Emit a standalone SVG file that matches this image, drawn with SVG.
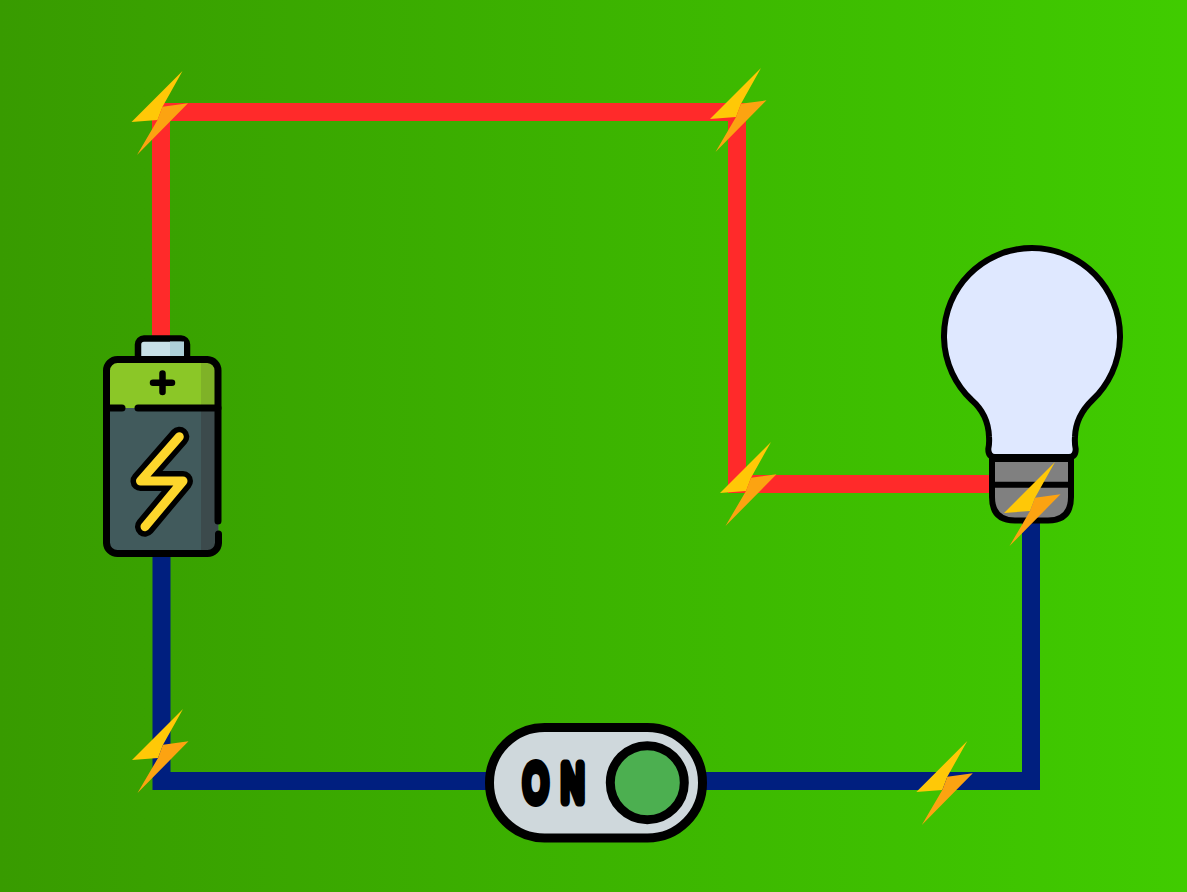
<svg xmlns="http://www.w3.org/2000/svg" width="1187" height="892" viewBox="0 0 1187 892">
<style>
.w{fill:none;stroke-width:18;stroke-linejoin:miter}
.r{stroke:#ff2a2a}.b{stroke:#001f7f}
.k{stroke:#000;stroke-linecap:round;stroke-linejoin:round;fill:none}
.on{font-family:"Liberation Sans",Arial,sans-serif;font-weight:400;font-size:51px;fill:#000;stroke:#000;stroke-width:9;stroke-linejoin:round;vector-effect:non-scaling-stroke}
</style>
<defs>
<linearGradient id="bg" x1="0" y1="0" x2="1" y2="0"><stop offset="0" stop-color="#389b00"/><stop offset="1" stop-color="#40cc00"/></linearGradient>
<g id="bolt">
<polygon points="0,0 -51,51 -25,49 -20,35.700" fill="#ffc807"/>
<polygon points="5.500,32.300 -45.500,84 -25,49 -20,35.700" fill="#fca311"/>
</g>
</defs>
<rect width="1187" height="892" fill="url(#bg)"/>
<g id="connectors">
<path class="w r" d="M161 340V112H737V484H992"/>
<path class="w b" d="M161.500 555V781H1031V520"/>
</g>
<g id="battery">
<rect x="138" y="338.500" width="49" height="24" rx="6" fill="#c9e0e7" stroke="#000" stroke-width="6.500"/>
<path d="M170 341.500H184V356H170Z" fill="#aed0d8"/>
<rect x="106.500" y="359.500" width="112" height="194" rx="11" fill="#415a5c"/>
<path d="M117.500 359.500H207.500A11 11 0 0 1 218.500 370.500V408H106.500V370.500A11 11 0 0 1 117.500 359.500Z" fill="#8bc727"/>
<path d="M201 360H208A10.500 10.500 0 0 1 218 371V408H201Z" fill="#7fb227"/>
<path d="M201 408H218V543A10 10 0 0 1 208 553H201Z" fill="#3c4a4c"/>
<path class="k" stroke-width="7" d="M218 521V370.500A11 11 0 0 0 207.500 359.500H117.500A11 11 0 0 0 106.500 370.500V543A11 11 0 0 0 117.500 553.500H207.500A11 11 0 0 0 218.500 543V534"/>
<path class="k" stroke-width="7" d="M106.500 408H122M138 408H218"/>
<path class="k" stroke-width="6.500" d="M162.500 373.500V392M153 382.700H172"/>
<path class="k" stroke-width="20" d="M179.300 436.700L140.500 481H183L145 526.700"/>
<path d="M179.300 436.700L140.500 481H183L145 526.700" fill="none" stroke="#fdd62c" stroke-width="9" stroke-linecap="round" stroke-linejoin="round"/>
</g>
<g id="bulb">
<path d="M995 457H1069Q1075.700 457 1075.700 449Q1074.500 443 1075 436.700C1075.500 422 1081 411 1092.400 400A88 88 0 1 0 971.600 400C982 409 988.500 422 989 436.700Q989.500 443 988.300 449Q988.300 457 995 457Z" fill="#dfe8ff" stroke="#000" stroke-width="6" stroke-linejoin="round"/>
<path d="M992 459H1071V497Q1071 520.500 1048 520.500H1015Q992 520.500 992 497Z" fill="#808080" stroke="#000" stroke-width="6" stroke-linejoin="round"/>
<path d="M992 484.800H1071" stroke="#000" stroke-width="6" fill="none"/>
</g>
<g id="switch">
<rect x="489.500" y="727.500" width="213" height="110.500" rx="55" fill="#cfd8dc" stroke="#000" stroke-width="9"/>
<text class="on" transform="translate(523.500 801.200) scale(.62 1)" x="0 61">ON</text>
<circle cx="647.300" cy="782.700" r="37" fill="#4caf50" stroke="#000" stroke-width="9"/>
</g>
<g id="sparks">
<use href="#bolt" x="182.500" y="71"/>
<use href="#bolt" x="761" y="68"/>
<use href="#bolt" x="771" y="442"/>
<use href="#bolt" x="1055" y="462"/>
<use href="#bolt" x="183" y="709"/>
<use href="#bolt" x="967.300" y="741"/>
</g>
</svg>
